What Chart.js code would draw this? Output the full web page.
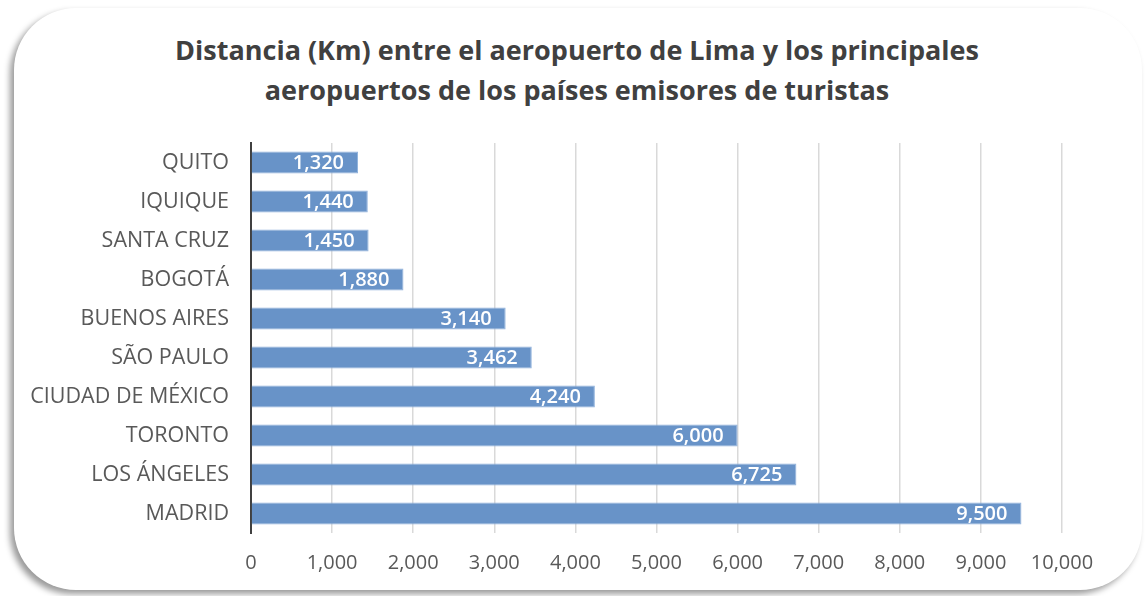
<!DOCTYPE html>
<html lang="es">
<head>
    <meta charset="UTF-8">
    <title>Distancia entre aeropuertos</title>
    <script src="https://cdn.jsdelivr.net/npm/chart.js"></script>
    <style>
body {
    margin: 0;
    background: #fff;
    width: 1145px;
    height: 596px;
    overflow: hidden;
    position: relative;
}
.marco {
    position: absolute;
    left: 14px;
    top: 8px;
    width: 1128px;
    height: 582px;
    background: #fff;
    border-radius: 62px;
    box-shadow: -4px 4px 6px rgba(0,0,0,0.4);
}
.titulo {
    position: absolute;
    left: 0;
    top: 30px;
    width: 1154px;
    text-align: center;
    font-family: 'Open Sans', 'Noto Sans', sans-serif;
    font-weight: bold;
    font-size: 27px;
    line-height: 40px;
    color: #404040;
}
#grafico {
    position: absolute;
    left: 0;
    top: 0;
}
    </style>
</head>
<body>
    <div class="marco"></div>
    <div class="titulo">Distancia (Km) entre el aeropuerto de Lima y los principales<br>aeropuertos de los países emisores de turistas</div>
    <canvas id="grafico" width="1145" height="596"></canvas>
    <script>
        // Datos
        const ciudades = ['QUITO', 'IQUIQUE', 'SANTA CRUZ', 'BOGOTÁ', 'BUENOS AIRES',
            'SÃO PAULO', 'CIUDAD DE MÉXICO', 'TORONTO', 'LOS ÁNGELES', 'MADRID'];
        const distancias = [1320, 1440, 1450, 1880, 3140, 3462, 4240, 6000, 6725, 9500];
        const ticksX = [0, 1000, 2000, 3000, 4000, 5000, 6000, 7000, 8000, 9000, 10000];

        const fuente = "'Open Sans', 'Noto Sans', sans-serif";
        const fmt = v => v.toLocaleString('en-US');

        // Etiquetas de valor dentro de cada barra
        const etiquetas = {
            id: 'etiquetas',
            afterDatasetsDraw(chart) {
                const ctx = chart.ctx;
                ctx.save();
                ctx.fillStyle = '#ffffff';
                ctx.font = '600 20px ' + fuente;
                ctx.textAlign = 'right';
                ctx.textBaseline = 'middle';
                chart.getDatasetMeta(0).data.forEach((bar, i) => {
                    ctx.fillText(fmt(distancias[i]), bar.x - 14, bar.y + 1);
                });
                ctx.restore();
            }
        };

        new Chart(document.getElementById('grafico'), {
            type: 'bar',
            data: {
                labels: ciudades,
                datasets: [{
                    data: distancias,
                    backgroundColor: '#6893c8',
                    borderColor: '#8fb1dc',
                    borderWidth: 1,
                    barPercentage: 0.57,
                    categoryPercentage: 1
                }]
            },
            options: {
                indexAxis: 'y',
                responsive: false,
                animation: false,
                layout: { padding: { left: 20, right: 83, top: 143, bottom: 3 } },
                plugins: {
                    legend: { display: false },
                    tooltip: { enabled: false }
                },
                scales: {
                    x: {
                        min: 0,
                        max: 10000,
                        afterBuildTicks: s => { s.ticks = ticksX.map(v => ({ value: v })); },
                        ticks: {
                            color: '#595959',
                            font: { family: fuente, size: 20 },
                            padding: 18,
                            maxRotation: 0,
                            callback: v => fmt(v)
                        },
                        grid: { color: '#d9d9d9', lineWidth: 1.5, drawTicks: false },
                        border: { display: false }
                    },
                    y: {
                        afterFit: s => { s.width = 231; },
                        ticks: {
                            color: '#595959',
                            font: { family: fuente, size: 21.5 },
                            padding: 14
                        },
                        grid: { display: false },
                        border: { color: '#404040', width: 2 }
                    }
                }
            },
            plugins: [etiquetas]
        });
    </script>
</body>
</html>
